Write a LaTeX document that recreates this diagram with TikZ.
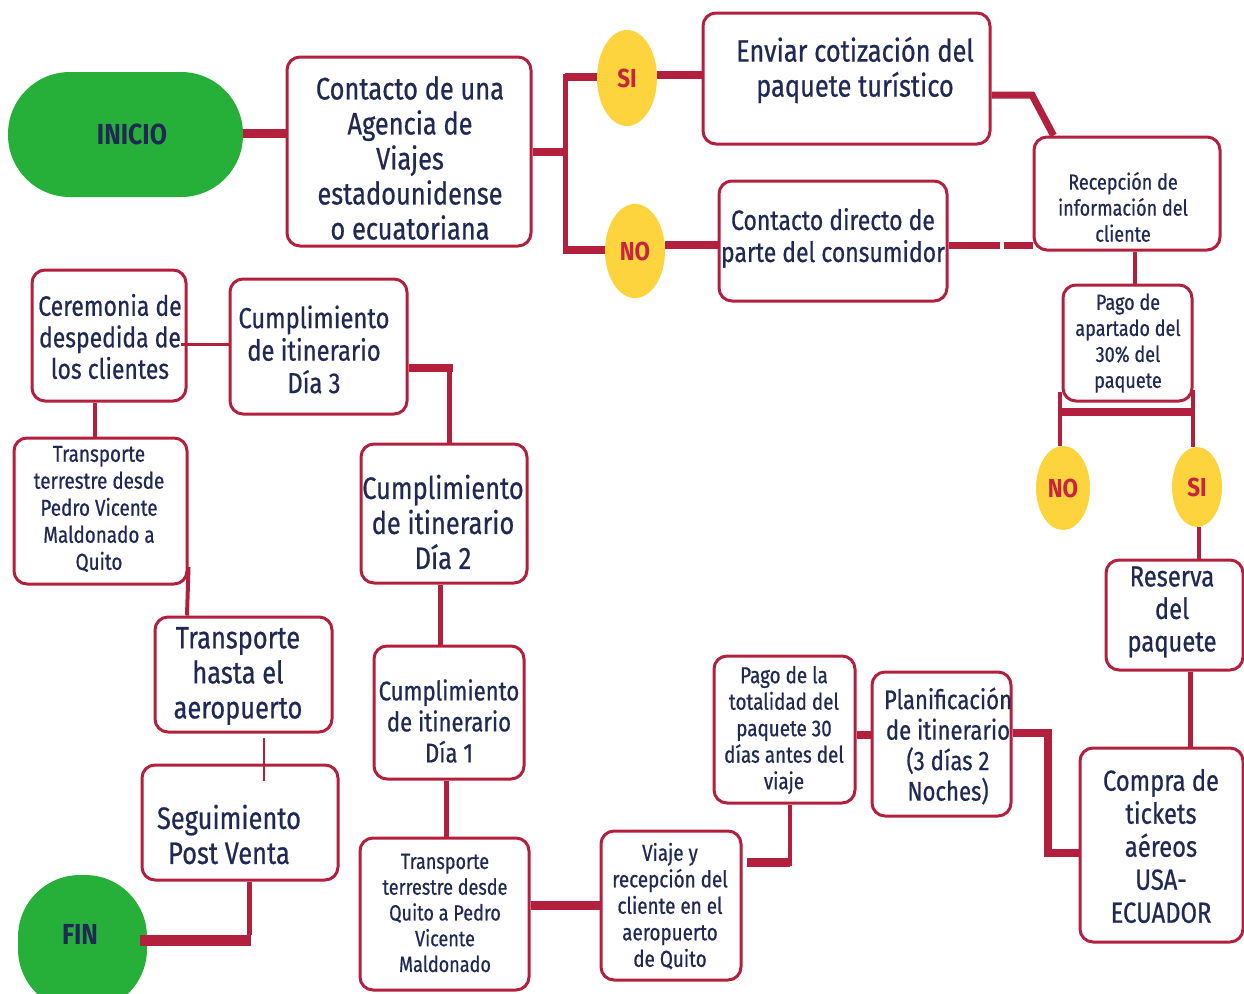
\documentclass[tikz,border=0pt]{standalone}
\usepackage{fontspec}
\setmainfont{Fira Sans}[FakeStretch=0.82, FakeBold=0.6]
\newfontfamily\headfont{Fira Sans}[FakeStretch=0.86]
\usetikzlibrary{shapes.geometric}
\definecolor{navy}{RGB}{32,40,84}
\definecolor{wine}{RGB}{178,32,62}
\definecolor{leaf}{RGB}{38,176,58}
\definecolor{sun}{RGB}{253,211,62}
\definecolor{answerred}{RGB}{200,36,63}
\newcommand{\fsz}[2]{\fontsize{#1}{#2}\selectfont}

\begin{document}
\begin{tikzpicture}[x=1pt,y=-1pt,
  box/.style={draw=wine, line width=3pt, rounded corners=13pt, fill=white, inner sep=0pt},
  txt/.style={align=center, text=navy, inner sep=0pt},
  terminal/.style={fill=leaf, inner sep=0pt},
  answer/.style={ellipse, fill=sun, inner sep=0pt, text=answerred, font=\headfont\bfseries\fsz{26}{26}},
  w2/.style={draw=wine, line width=2.5pt},
  w3/.style={draw=wine, line width=3pt},
  w4/.style={draw=wine, line width=4pt},
  w5/.style={draw=wine, line width=5pt},
  w7/.style={draw=wine, line width=7pt},
  w8/.style={draw=wine, line width=8pt},
  w9/.style={draw=wine, line width=9pt},
  w11/.style={draw=wine, line width=11pt}
]
\useasboundingbox (0,0) rectangle (1244,993);
\clip (0,0) rectangle (1244,993);

% start and end terminals
\node[terminal, rounded corners=62pt, minimum width=235pt, minimum height=125pt] (inicio) at (125.5,134.5) {};
\node[txt, font=\headfont\bfseries\fsz{29}{29}] (inicio-t) at (132,134) {INICIO};
\node[terminal, rounded corners=62pt, minimum width=129pt, minimum height=136pt] (fin) at (82.5,943) {};
\node[txt, font=\headfont\bfseries\fsz{29}{29}] (fin-t) at (80,934) {FIN};

% decision markers
\node[answer, minimum width=60pt, minimum height=96pt] (si1) at (627,78) {SI};
\node[answer, minimum width=60pt, minimum height=94pt] (no1) at (635,251) {NO};
\node[answer, minimum width=54pt, minimum height=84pt] (no2) at (1063,488) {NO};
\node[answer, minimum width=50pt, minimum height=80pt] (si2) at (1197,487) {SI};

% process boxes
\node[box, minimum width=244pt, minimum height=189pt] (contacto) at (409,151.5) {};
\node[txt, font=\fsz{31}{35}] (contacto-t) at (410,158) {Contacto de una\\Agencia de\\Viajes\\estadounidense\\o ecuatoriana};

\node[box, minimum width=287pt, minimum height=131pt] (enviar) at (846.5,78.5) {};
\node[txt, font=\fsz{31}{35}] (enviar-t) at (855,70) {Enviar cotización del\\paquete turístico};

\node[box, minimum width=228pt, minimum height=120pt] (directo) at (833,241) {};
\node[txt, font=\fsz{28}{32}] (directo-t) at (833,238) {Contacto directo de\\parte del consumidor};

\node[box, minimum width=186pt, minimum height=113pt] (recepcion) at (1127,193.5) {};
\node[txt, font=\fsz{22}{26}] (recepcion-t) at (1123,207) {Recepción de\\información del\\cliente};

\node[box, minimum width=129pt, minimum height=116pt] (apartado) at (1127.5,343) {};
\node[txt, font=\fsz{22}{26}] (apartado-t) at (1128,343) {Pago de\\apartado del\\30\% del\\paquete};

\node[box, minimum width=137pt, minimum height=110pt] (reserva) at (1174.5,615) {};
\node[txt, font=\fsz{29}{32.5}] (reserva-t) at (1172,612) {Reserva\\del\\paquete};

\node[box, minimum width=163pt, minimum height=194pt] (compra) at (1161.5,845) {};
\node[txt, font=\fsz{29}{33}] (compra-t) at (1161,846) {Compra de\\tickets\\aéreos\\USA-\\ECUADOR};

\node[box, minimum width=139pt, minimum height=144pt] (planif) at (941.5,744) {};
\node[txt, font=\fsz{27}{30.5}] (planif-t) at (948,746) {Planificación\\de itinerario\\(3 días 2\\Noches)};

\node[box, minimum width=141pt, minimum height=147pt] (totalidad) at (784.5,729.5) {};
\node[txt, font=\fsz{23}{26.5}] (totalidad-t) at (784,730) {Pago de la\\totalidad del\\paquete 30\\días antes del\\viaje};

\node[box, minimum width=140pt, minimum height=149pt] (viaje) at (671,905.5) {};
\node[txt, font=\fsz{23}{26.5}] (viaje-t) at (670,906) {Viaje y\\recepción del\\cliente en el\\aeropuerto\\de Quito};

\node[box, minimum width=169pt, minimum height=152pt] (transq) at (444.5,914) {};
\node[txt, font=\fsz{22}{25.75}] (transq-t) at (445,913) {Transporte\\terrestre desde\\Quito a Pedro\\Vicente\\Maldonado};

\node[box, minimum width=150pt, minimum height=133pt] (dia1) at (449,712.5) {};
\node[txt, font=\fsz{27}{31}] (dia1-t) at (449,721) {Cumplimiento\\de itinerario\\Día 1};

\node[box, minimum width=166pt, minimum height=139pt] (dia2) at (444,513.5) {};
\node[txt, font=\fsz{31}{35}] (dia2-t) at (443,522) {Cumplimiento\\de itinerario\\Día 2};

\node[box, minimum width=177pt, minimum height=135pt] (dia3) at (318.5,346.5) {};
\node[txt, font=\fsz{29}{32.5}] (dia3-t) at (314,349.5) {Cumplimiento\\de itinerario\\Día 3};

\node[box, minimum width=154pt, minimum height=131pt] (ceremonia) at (109,335.5) {};
\node[txt, font=\fsz{28}{31.5}] (ceremonia-t) at (110,336.5) {Ceremonia de\\despedida de\\los clientes};

\node[box, minimum width=173pt, minimum height=146pt] (transp) at (100.5,511) {};
\node[txt, font=\fsz{23}{27}] (transp-t) at (99,509) {Transporte\\terrestre desde\\Pedro Vicente\\Maldonado a\\Quito};

\node[box, minimum width=177pt, minimum height=115pt] (aeropuerto) at (243.5,674.5) {};
\node[txt, font=\fsz{31}{35}] (aeropuerto-t) at (238,676) {Transporte\\hasta el\\aeropuerto};

\node[box, minimum width=196pt, minimum height=115pt] (seguimiento) at (240,822.5) {};
\node[txt, font=\fsz{31}{35}] (seguimiento-t) at (229,834.5) {Seguimiento\\Post Venta};

% junctions
\coordinate (j1) at (565,152);
\coordinate (j2) at (1032,95);
\coordinate (j3) at (1048,733);
\coordinate (j4) at (790,862);
\coordinate (j5) at (449,368);
\coordinate (j6) at (249,940);
\coordinate (bl) at (1058,412);
\coordinate (br) at (1195,412);

% connectors
\draw[w9] (inicio.east |- 0,133) -- (contacto.west |- 0,133);
\draw[w8] (contacto.east |- j1) -- (j1);
\draw[w5] (j1 |- 0,74) -- (j1 |- 0,254);
\draw[w8] (j1 |- 0,77) -- (si1.west |- 0,77);
\draw[w8] (j1 |- 0,250) -- (no1.west |- 0,250);
\draw[w8] (si1.east |- 0,75) -- (enviar.west |- 0,75);
\draw[w8] (no1.east |- 0,245) -- (directo.west |- 0,245);
\draw[w7] (enviar.east |- j2) -- (j2) -- ([xshift=21pt]recepcion.north west);
\draw[w7] (directo.east |- 0,245) -- (1000,245);
\draw[w7] (1004,245) -- (recepcion.west |- 0,245);
\draw[w4] (recepcion.south -| 1135,0) -- (apartado.north -| 1135,0);
\draw[w8] (bl) -- (br);
\draw[w4] (1060,392) -- (no2.north -| 1060,0);
\draw[w4] (1193,390) -- (si2.north -| 1193,0);
\draw[w4] (si2.south -| 1199,0) -- (reserva.north -| 1199,0);
\draw[w5] (reserva.south -| 1190,0) -- (compra.north -| 1190,0);
\draw[w8] (planif.east |- j3) -- (j3) -- (j3 |- 0,853) -- (compra.west |- 0,853);
\draw[w8] (totalidad.east |- 0,735) -- (planif.west |- 0,735);
\draw[w4] (totalidad.south -| j4) -- ([yshift=-4pt]j4);
\draw[w9] (j4) -- (747,862);
\draw[w9] (viaje.west |- 0,905) -- (transq.east |- 0,905);
\draw[w5] (transq.north -| 446,0) -- (dia1.south -| 446,0);
\draw[w5] (dia1.north -| 440,0) -- (dia2.south -| 440,0);
\draw[w8] (dia3.east |- j5) -- ([xshift=4pt]j5);
\draw[w5] (j5) -- (dia2.north -| j5);
\draw[w3] (dia3.west |- 0,344) -- (181,344);
\draw[w4] (ceremonia.south -| 95,0) -- (transp.north -| 95,0);
\draw[w4] (transp.east |- 0,567) -- (aeropuerto.north -| 187,0);
\draw[w2] (264,738) -- (seguimiento.north -| 264,0) -- ++(0,17);
\draw[w5] (seguimiento.south -| j6) -- ([yshift=5pt]j6);
\draw[w11] ([xshift=2pt]j6) -- (fin.east |- j6) -- ++(-7,0);
\end{tikzpicture}
\end{document}
